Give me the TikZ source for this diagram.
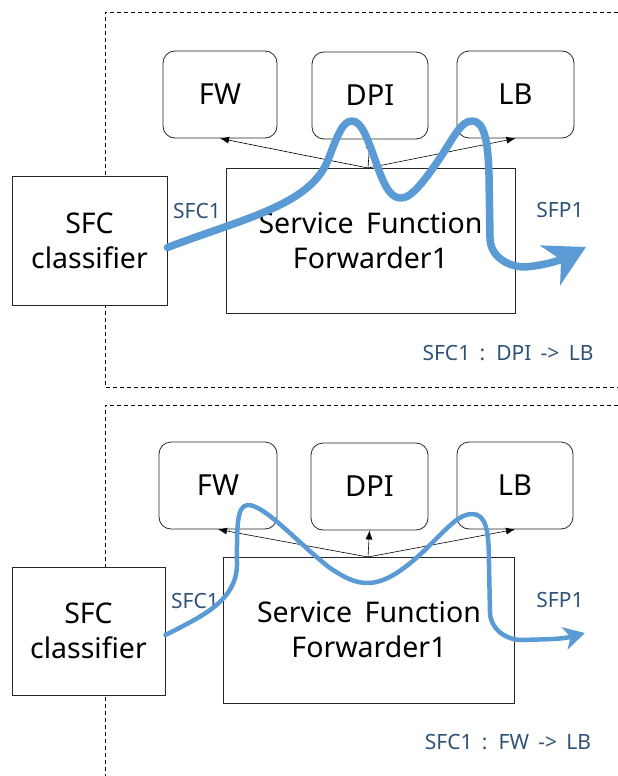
\documentclass[tikz,border=0pt]{standalone}
\usepackage{fontspec}
\setmainfont{Noto Sans}[WordSpace=1.7]
\usetikzlibrary{arrows.meta,calc}
\definecolor{flow}{RGB}{91,155,213}
\definecolor{lbl}{RGB}{47,82,118}
\begin{document}
\begin{tikzpicture}[x=1pt,y=-1pt,
  sfbox/.style={draw=black!85, line width=0.8pt, rounded corners=12pt,
    minimum width=115pt, minimum height=87pt, inner sep=0pt,
    font=\fontsize{29}{34}\selectfont},
  plainbox/.style={draw=black!85, line width=0.9pt, fill=white, inner sep=0pt,
    align=center, font=\fontsize{28.5}{35}\selectfont},
  ctrl/.style={-{Latex[length=9pt,width=7pt]}, line width=0.6pt},
  frame/.style={dash pattern=on 4pt off 3pt, line width=0.7pt},
  flowline/.style={draw=flow, line cap=round, line join=round},
  tag/.style={text=lbl, inner sep=0pt, font=\fontsize{21}{24}\selectfont}]

\useasboundingbox (0,0) rectangle (618,776);

% ---------- upper chain: DPI -> LB ----------
\draw[frame] (618,12) -- (105,12) -- (105,387) -- (618,387);

\node[sfbox, minimum width=114pt] (fw1)  at (220,94.5) {FW};
\node[sfbox, minimum width=116pt] (dpi1) at (370,95.5) {DPI};
\node[sfbox, minimum width=117pt] (lb1)  at (515.5,94.5) {LB};

\node[plainbox, minimum width=155pt, minimum height=129pt] (cls1) at (89.5,240.5) {SFC\\classifier};
\node[plainbox, minimum width=289pt, minimum height=145pt] (sff1) at (370.5,240.5) {Service Function\\Forwarder1};

\coordinate (hub1) at (368,168);
\draw[ctrl] (hub1) -- (fw1.south);
\draw[ctrl] (hub1) -- (dpi1.south);
\draw[ctrl] (hub1) -- (lb1.south);

\node[tag] (in1)  at (197,211) {SFC1};
\node[tag] (out1) at (560,210) {SFP1};
\node[tag] (rule1) at (508,353) {SFC1 : DPI -> LB};

\coordinate (end1) at (586,247);
\draw[flowline, line width=7.5pt, -{Stealth[length=40pt,width=44pt,inset=12pt]}]
  ($(cls1.east)+(0,7)$) .. controls (245,218) and (310,205) .. (328,160)
  .. controls (338,134) and (343,121) .. (352,121)
  .. controls (362,121) and (368,140) .. (378,168)
  .. controls (386,190) and (392,198) .. (401,198)
  .. controls (412,198) and (425,180) .. (442,155)
  .. controls (456,133) and (462,121) .. (472,121)
  .. controls (484,121) and (488,140) .. (489,175)
  -- (490,238)
  to[out=-90,in=180] (525,267)
  to[out=5,in=207] (end1);

% ---------- lower chain: FW -> LB ----------
\draw[frame] (618,405) -- (105,405) -- (105,776);

\node[sfbox, minimum width=118pt] (fw2)  at (218,485.5) {FW};
\node[sfbox, minimum width=117pt] (dpi2) at (369.5,486.5) {DPI};
\node[sfbox, minimum width=116pt] (lb2)  at (515,485.5) {LB};

\node[plainbox, minimum width=153pt, minimum height=128pt] (cls2) at (88.5,631) {SFC\\classifier};
\node[plainbox, minimum width=291pt, minimum height=146pt] (sff2) at (369,630) {Service Function\\Forwarder1};

\coordinate (hub2) at (368,557);
\draw[ctrl] (hub2) -- (fw2.south);
\draw[ctrl] (hub2) -- (dpi2.south);
\draw[ctrl] (hub2) -- (lb2.south);

\node[tag] (in2)  at (195,601) {SFC1};
\node[tag] (out2) at (560,600) {SFP1};
\node[tag] (rule2) at (508,742) {SFC1 : FW -> LB};

\coordinate (end2) at (585,633);
\draw[flowline, line width=4.5pt, -{Stealth[length=21pt,width=23pt,inset=6pt]}]
  ($(cls2.east)+(0,4)$) .. controls (205,615) and (236,600) .. (237,565)
  .. controls (237,530) and (236,505) .. (248,505)
  .. controls (265,505) and (300,545) .. (330,568)
  .. controls (345,578) and (355,583) .. (368,583)
  .. controls (385,583) and (405,570) .. (430,545)
  .. controls (450,525) and (460,514) .. (472,514)
  .. controls (486,514) and (489,530) .. (489,565)
  -- (490,612)
  to[out=-90,in=180] (522,640)
  to[out=2,in=195] (end2);
\end{tikzpicture}
\end{document}
